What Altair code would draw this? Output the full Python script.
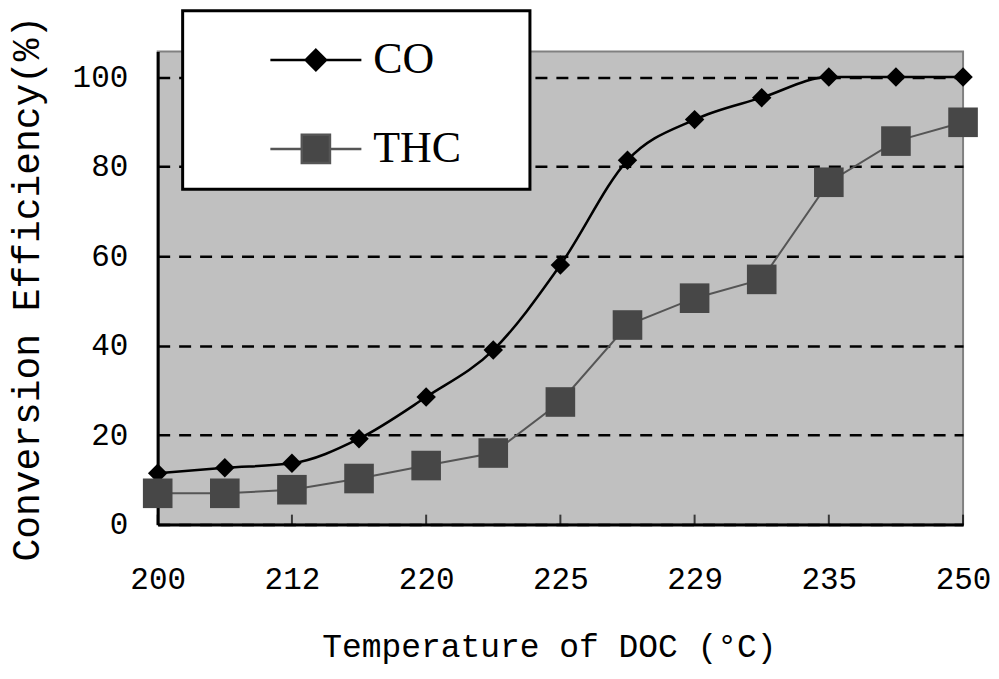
import json
import altair as alt
import pandas as pd

# ---- data ----
point_idx = list(range(13))                       # 13 measurement points along x
tick_labels = ["200", "212", "220", "225", "229", "235", "250"]   # every other point labelled
tick_idx = [0, 2, 4, 6, 8, 10, 12]
series = ["CO", "THC"]
co = [11.5, 12.7, 13.7, 19.2, 28.5, 39.0, 58.0, 81.4, 90.5, 95.4, 100.0, 100.0, 100.0]
thc = [7.0, 7.0, 7.8, 10.3, 13.2, 16.0, 27.4, 44.6, 50.6, 54.8, 76.5, 85.7, 89.9]

rows = []
for s, vals in zip(series, [co, thc]):
    for i, v in zip(point_idx, vals):
        rows.append({"idx": i, "value": v, "series": s})
df = pd.DataFrame(rows)
ticks_df = pd.DataFrame({"idx": tick_idx})

AXIS_FONT = "Liberation Mono"
label_expr = json.dumps(tick_labels) + "[round(datum.value/2)]"

x_enc = alt.X(
    "idx:Q",
    scale=alt.Scale(domain=[0, 12], nice=False, zero=False),
    axis=alt.Axis(
        values=tick_idx, labelExpr=label_expr, title="Temperature of DOC (°C)",
        grid=False, ticks=False, domainColor="black", domainWidth=3,
        labelFont=AXIS_FONT, labelFontSize=31, labelColor="black", labelPadding=40,
        labelFlush=False, labelOverlap=False,
        titleFont=AXIS_FONT, titleFontSize=33, titleFontWeight="normal",
        titleColor="black", titlePadding=36, titleX=392,
    ),
)
y_enc = alt.Y(
    "value:Q",
    scale=alt.Scale(domain=[0, 105.7], nice=False),
    axis=alt.Axis(
        values=[0, 20, 40, 60, 80, 100], title="Conversion Efficiency(%)",
        grid=True, gridColor="black", gridDash=[12, 9], gridWidth=2.5,
        ticks=False, domainColor="black", domainWidth=3,
        labelFont=AXIS_FONT, labelFontSize=31, labelColor="black", labelPadding=30,
        labelFlush=False, labelOverlap=False,
        titleFont=AXIS_FONT, titleFontSize=38, titleFontWeight="normal",
        titleColor="black", titlePadding=26,
    ),
)

stroke_scale = alt.Scale(domain=series, range=["#000000", "#555555"])
fill_scale = alt.Scale(domain=series, range=["#000000", "#474747"])

co_line = alt.Chart(df).transform_filter("datum.series == 'CO'").mark_line(
    interpolate="monotone", strokeWidth=2.5
).encode(x=x_enc, y=y_enc, stroke=alt.Stroke("series:N", scale=stroke_scale, legend=None))

thc_line = alt.Chart(df).transform_filter("datum.series == 'THC'").mark_line(
    strokeWidth=2
).encode(x=x_enc, y=y_enc, stroke=alt.Stroke("series:N", scale=stroke_scale, legend=None))

pts = alt.Chart(df).mark_point(filled=True, opacity=1, strokeWidth=0).encode(
    x=x_enc, y=y_enc,
    fill=alt.Fill("series:N", scale=fill_scale, legend=None),
    shape=alt.Shape("series:N", scale=alt.Scale(domain=series, range=["diamond", "square"]), legend=None),
    size=alt.Size("series:N", scale=alt.Scale(domain=series, range=[380, 880]), legend=None),
)

ticks = alt.Chart(ticks_df).mark_tick(
    orient="vertical", size=10, thickness=2, color="black", yOffset=-5
).encode(x=x_enc, y=alt.datum(0))

leg = alt.Legend(
    orient="none", legendX=25, legendY=-41, title=" ", titleOrient="right",
    titlePadding=51, symbolSize=3600, symbolStrokeWidth=2.5, symbolOpacity=1,
    symbolOffset=84, labelOffset=26, labelFont="Liberation Serif",
    labelFontSize=44, labelColor="black", rowPadding=35,
)
co_path = "M-1.52,0H1.52M0,-0.34L0.34,0L0,0.34L-0.34,0Z"
thc_path = "M-1.52,0H-0.47M0.47,0H1.52M-0.47,-0.47H0.47V0.47H-0.47Z"

legend_layer = alt.Chart(df).transform_filter("false").mark_point(filled=True).encode(
    x=x_enc, y=y_enc,
    fill=alt.Fill("series:N", scale=fill_scale, legend=leg),
    stroke=alt.Stroke("series:N", scale=stroke_scale, legend=leg),
    shape=alt.Shape("series:N", scale=alt.Scale(domain=series, range=[co_path, thc_path]), legend=leg),
)

chart = alt.layer(co_line, thc_line, pts, ticks, legend_layer).resolve_scale(
    shape="independent", fill="independent", stroke="independent", size="independent"
).properties(
    width=807, height=474,
    padding={"left": 0, "top": 0, "right": 0, "bottom": 4},
    background="white",
).configure_view(
    fill="#c0c0c0", stroke="#808080", strokeWidth=2
).configure_legend(
    fillColor="white", strokeColor="black", strokeWidth=3, padding=18, cornerRadius=0
)

chart.save("out.html", embed_options={"renderer": "svg", "actions": False})
